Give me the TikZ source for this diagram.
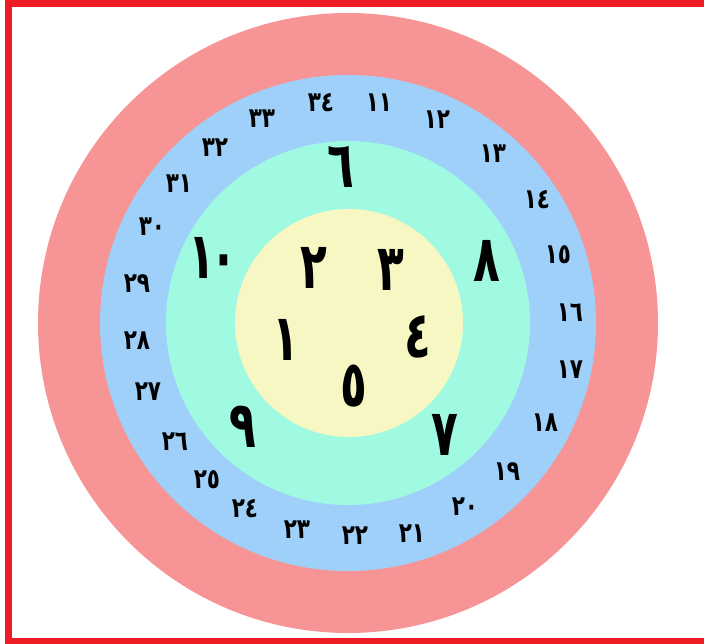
\documentclass[tikz,border=0pt]{standalone}
\usepackage{fontspec}
\usepackage{graphicx}
\newfontfamily\arabicfont[Script=Arabic]{DejaVu Sans}
\usepackage{tikz}
\definecolor{framered}{HTML}{EE1D25}
\definecolor{ringred}{HTML}{F79496}
\definecolor{ringblue}{HTML}{9ED0F9}
\definecolor{ringgreen}{HTML}{A0F9E1}
\definecolor{ringyellow}{HTML}{F7F7C4}
\newcommand\bigdigit[1]{\scalebox{.78}[1.15]{#1}}
\newcommand\smalldigit[1]{\scalebox{.85}[1.1]{#1}}
\tikzset{
  ring/.style  ={circle, draw=none, inner sep=0pt},
  bignum/.style={inner sep=0pt, font=\arabicfont\bfseries\fontsize{40}{40}\selectfont},
  smallnum/.style={inner sep=0pt, font=\arabicfont\bfseries\fontsize{18}{18}\selectfont},
  edge/.style  ={draw=framered, line width=5}
}

\begin{document}
\begin{tikzpicture}[x=0.025cm, y=-0.025cm]
\useasboundingbox (0,0) rectangle (704,644);
% frame
\draw[edge] (704,3.5) -- (8.5,3.5) -- (8.5,642) -- (704,642);
\fill[framered] (642,0) rectangle (669,3);
% rings
\fill[ringred]    (348,323) circle (310);
\fill[ringblue]   (348,323) circle (248);
\fill[ringgreen]  (348,323) circle (182);
\fill[ringyellow] (349,323) circle (114);
% inner ring
\node[bignum] (n1) at (286,340) {\bigdigit{١}};
\node[bignum] (n2) at (314,268) {\bigdigit{٢}};
\node[bignum] (n3) at (391,270) {\bigdigit{٣}};
\node[bignum] (n4) at (418,337) {\bigdigit{٤}};
\node[bignum] (n5) at (354,386) {\bigdigit{٥}};
% middle ring
\node[bignum] (n6)  at (341,167) {\bigdigit{٦}};
\node[bignum] (n7)  at (445,435) {\bigdigit{٧}};
\node[bignum] (n8)  at (487,261) {\bigdigit{٨}};
\node[bignum] (n9)  at (243,427) {\bigdigit{٩}};
\node[bignum] (n10) at (213,258) {\bigdigit{١\kern-4pt٠}};
% outer ring
\foreach \t/\x/\y [count=\i from 11] in {
  ١١/379/103, ١٢/437/120, ١٣/493/154, ١٤/537/200, ١٥/558/255,
  ١٦/570/313, ١٧/570/370, ١٨/545/423, ١٩/507/472, ٢٠/465/507,
  ٢١/412/534, ٢٢/355/536, ٢٣/297/530, ٢٤/245/509, ٢٥/207/480,
  ٢٦/175/442, ٢٧/148/392, ٢٨/137/341, ٢٩/137/284, ٣٠/152/227,
  ٣١/179/184, ٣٢/215/148, ٣٣/262/119, ٣٤/321/103}
  \node[smallnum] (n\i) at (\x,\y) {\smalldigit{\t}};
\end{tikzpicture}
\end{document}
